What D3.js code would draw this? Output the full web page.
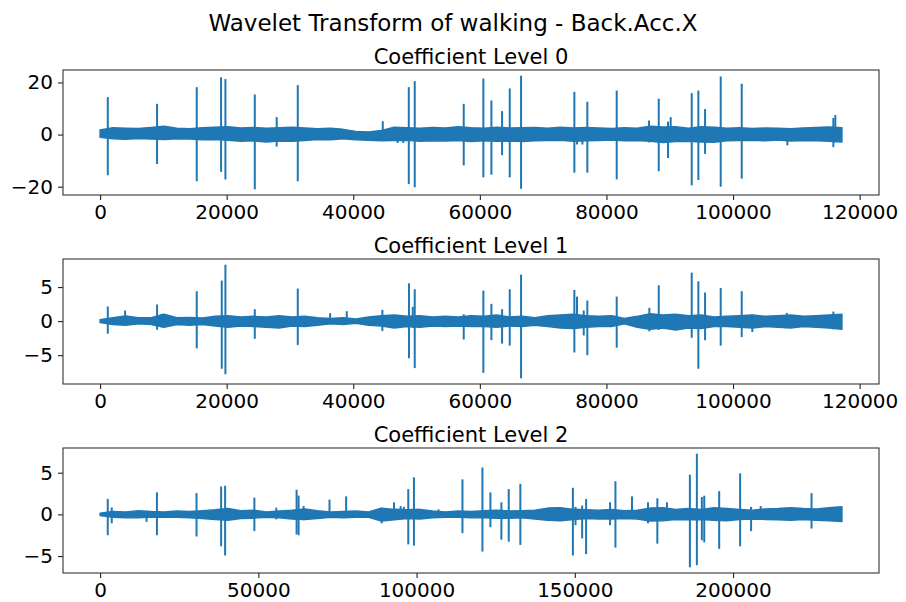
<!DOCTYPE html>
<html>
<head>
<meta charset="utf-8">
<script src="https://cdn.jsdelivr.net/npm/d3@7"></script>
<style>
  html, body { margin: 0; padding: 0; background: #fff; }
  text { font-family: "DejaVu Sans", sans-serif; fill: #000; }
</style>
</head>
<body>
<script>
// ---- Data: three detail-coefficient levels of the Back.Acc.X signal ----
// Each level: overall length, a noise envelope (upper/lower, evenly spaced samples)
// and the isolated spikes (position, peak, trough).

const level0Length = 117200;
const level0Upper = [1.8,2.6,2.4,2.3,2.7,3.2,2.4,2.2,2.6,2.8,
                     3.0,2.5,2.7,2.4,2.6,2.8,2.5,2.2,2.4,2.0,
                     1.2,1.0,1.6,2.8,2.6,2.4,2.7,2.5,3.0,2.6,
                     2.4,2.8,2.5,2.6,2.7,2.4,2.8,2.5,2.7,2.5,
                     2.3,2.6,2.4,3.2,2.9,3.0,2.4,3.0,2.8,2.4,
                     2.6,2.3,2.5,2.4,2.2,2.5,2.7,2.9,2.6];
const level0Lower = [-1.0,-1.6,-1.8,-1.5,-1.7,-1.9,-1.6,-1.7,-2.0,-1.9,
                     -2.2,-2.6,-2.4,-2.8,-2.5,-2.6,-2.3,-1.9,-2.0,-1.6,
                     -2.0,-2.2,-2.4,-2.3,-2.2,-2.6,-2.4,-2.5,-2.3,-2.7,
                     -2.4,-2.6,-2.5,-2.7,-2.4,-2.3,-2.2,-2.6,-2.4,-2.3,
                     -2.1,-2.4,-2.3,-2.6,-3.0,-2.7,-2.6,-2.8,-2.9,-2.4,
                     -2.3,-2.2,-2.4,-2.1,-2.5,-2.3,-2.4,-2.6,-2.8];
const level0SpikeX = [1215,9000,15270,19115,19800,24440,27900,31230,44660,47000,47900,48770,
                      49710,57450,60550,61820,63510,64720,66510,74930,75350,76200,76980,81620,
                      86730,88260,89730,90150,93470,94520,95580,98050,101370,108580,115850,116160];
const level0SpikeHigh = [14.4,11.8,18.2,22.0,21.3,15.4,6.7,19.0,5.1,1.5,1.5,18.2,
                         20.5,11.8,21.5,13.1,9.0,17.7,22.6,16.4,2.0,2.0,12.6,16.9,
                         5.4,13.8,5.0,6.7,15.9,16.9,9.8,22.3,19.5,1.5,6.4,7.5];
const level0SpikeLow = [-15.6,-11.3,-17.9,-14.3,-17.2,-21.0,-4.6,-17.9,-1.0,-3.2,-3.2,-19.0,
                        -20.2,-11.8,-16.4,-15.4,-7.9,-16.4,-20.8,-14.6,-3.8,-3.8,-14.6,-17.2,
                        -3.0,-14.1,-9.0,-2.0,-19.5,-17.4,-7.4,-20.0,-16.9,-4.1,-4.8,-3.0];

const level1Length = 117200;
const level1Upper = [0.2,0.5,0.75,0.5,0.5,1.0,0.5,0.55,0.45,0.7,
                     0.8,0.6,0.7,0.6,0.8,0.6,0.7,0.5,0.4,0.5,
                     0.3,0.6,0.8,0.9,0.7,0.8,0.6,0.7,0.6,0.8,
                     0.7,0.9,0.6,0.7,0.5,0.8,0.9,1.0,0.8,0.7,
                     0.8,0.4,0.7,1.1,0.9,1.0,0.8,0.9,0.6,0.7,
                     0.8,0.9,0.7,0.8,0.9,0.7,0.8,0.9,1.0];
const level1Lower = [-0.2,-0.5,-0.6,-0.4,-0.5,-0.9,-0.5,-0.6,-0.5,-0.7,
                     -0.9,-0.7,-0.8,-0.9,-1.0,-0.7,-0.8,-0.6,-0.4,-0.5,
                     -0.3,-0.6,-0.7,-1.0,-0.8,-0.9,-0.7,-0.8,-0.7,-0.8,
                     -0.8,-0.9,-0.7,-0.8,-0.6,-0.8,-1.0,-1.1,-0.9,-0.8,
                     -0.8,-0.4,-0.9,-1.2,-1.0,-1.3,-1.0,-1.1,-0.8,-0.8,
                     -0.9,-1.0,-0.8,-0.9,-1.0,-0.8,-0.9,-1.0,-1.2];
const level1SpikeX = [1215,3950,9000,9700,15270,19220,19800,24440,31230,36340,38970,44600,
                      48800,49400,49710,57450,60550,61820,63510,64720,66510,74930,75350,76410,
                      76980,81620,86780,88260,93470,94520,95580,98050,101370,103050,108500,115850];
const level1SpikeHigh = [2.15,1.56,2.44,1.07,4.39,5.95,8.29,1.75,4.78,1.17,1.46,1.66,
                         5.55,2.1,4.68,1.0,4.48,2.54,1.75,4.68,6.83,4.58,3.6,1.56,
                         3.02,3.6,1.95,5.26,7.12,5.85,4.2,4.87,4.39,1.0,1.2,1.4];
const level1SpikeLow = [-1.85,-0.6,-1.27,-0.9,-4.0,-7.0,-7.8,-2.6,-3.5,-0.3,-0.3,-1.46,
                        -5.45,-1.0,-6.9,-2.7,-7.6,-2.8,-3.3,-3.6,-8.4,-4.6,-1.0,-2.1,
                        -5.0,-3.9,-1.5,-1.3,-2.45,-7.0,-2.8,-3.6,-2.34,-1.6,-0.8,-1.2];

const level2Length = 234400;
const level2Upper = [0.15,0.35,0.3,0.45,0.35,0.3,0.4,0.35,0.45,0.55,
                     0.7,0.45,0.5,0.3,0.4,0.5,0.65,0.45,0.3,0.35,
                     0.4,0.3,0.75,0.6,0.55,0.6,0.4,0.3,0.4,0.35,
                     0.45,0.5,0.4,0.45,0.5,0.75,0.8,0.6,0.55,0.5,
                     0.6,0.45,0.5,0.75,0.8,0.6,0.7,0.6,0.8,0.7,
                     0.6,0.5,0.65,0.7,0.8,0.7,0.65,0.8,0.9];
const level2Lower = [-0.15,-0.35,-0.4,-0.4,-0.3,-0.35,-0.35,-0.4,-0.5,-0.6,
                     -0.7,-0.5,-0.45,-0.35,-0.4,-0.55,-0.6,-0.5,-0.35,-0.4,
                     -0.35,-0.35,-0.8,-0.65,-0.5,-0.55,-0.4,-0.35,-0.35,-0.4,
                     -0.4,-0.45,-0.45,-0.4,-0.55,-0.7,-0.75,-0.6,-0.5,-0.55,
                     -0.55,-0.5,-0.55,-0.8,-0.75,-0.6,-0.65,-0.6,-0.7,-0.75,
                     -0.6,-0.55,-0.6,-0.65,-0.7,-0.6,-0.7,-0.75,-0.85];
const level2SpikeX = [2420,3680,14700,17960,30470,38240,39500,48750,55680,62090,62720,64300,
                      72490,77750,88980,92870,94970,96010,97380,99170,106940,114500,120810,123330,
                      126800,129120,132790,149390,150230,152320,153570,161140,162840,168080,173120,176080,
                      179120,186360,188570,190140,190900,195620,202240,205700,208740,224800,231100];
const level2SpikeHigh = [1.85,0.83,0.3,2.64,2.55,3.35,3.43,2.0,0.8,2.95,2.25,1.0,
                         1.77,2.16,0.8,1.45,1.0,0.9,3.03,4.45,0.6,4.2,5.63,2.64,
                         1.45,3.03,3.66,3.19,0.9,1.06,1.85,1.45,3.97,2.16,1.45,1.93,
                         1.45,4.76,7.28,2.08,2.24,2.79,4.92,0.9,1.0,2.55,0.9];
const level2SpikeLow = [-2.5,-1.07,-0.9,-2.5,-2.65,-3.83,-4.93,-2.0,-0.6,-2.4,-2.5,-0.7,
                        -0.3,-0.2,-1.07,-0.5,-0.4,-0.4,-3.6,-3.75,-0.3,-2.25,-4.46,-1.54,
                        -3.04,-3.27,-3.66,-4.93,-1.3,-2.88,-4.77,-1.3,-3.98,-0.3,-1.07,-3.51,
                        -0.5,-6.35,-6.1,-3.1,-3.35,-4.14,-3.83,-2.0,-0.6,-1.7,-0.8];

const titles = ["Coefficient Level 0", "Coefficient Level 1", "Coefficient Level 2"];
const xTicks01 = [0, 20000, 40000, 60000, 80000, 100000, 120000];
const xTicks2 = [0, 50000, 100000, 150000, 200000];
const yTicks0 = [-20, 0, 20];
const yTicks12 = [-5, 0, 5];

// ---- Layout ----
const W = 906, H = 602;
const lineColor = "#1f77b4";
const axLeft = 63, axRight = 879;
const axTops = [70, 259, 448];
const axHeight = 125;

const levels = [
  { title: titles[0], len: level0Length, up: level0Upper, lo: level0Lower,
    sx: level0SpikeX, sh: level0SpikeHigh, sl: level0SpikeLow, xt: xTicks01, yt: yTicks0 },
  { title: titles[1], len: level1Length, up: level1Upper, lo: level1Lower,
    sx: level1SpikeX, sh: level1SpikeHigh, sl: level1SpikeLow, xt: xTicks01, yt: yTicks12 },
  { title: titles[2], len: level2Length, up: level2Upper, lo: level2Lower,
    sx: level2SpikeX, sh: level2SpikeHigh, sl: level2SpikeLow, xt: xTicks2, yt: yTicks12 }
];

const svg = d3.select("body").append("svg")
  .attr("width", W).attr("height", H);

svg.append("text")
  .attr("x", W / 2).attr("y", 31)
  .attr("text-anchor", "middle")
  .style("font-size", "23px")
  .text("Wavelet Transform of walking - Back.Acc.X");

const fmt = d => d < 0 ? "\u2212" + Math.abs(d) : String(d);

levels.forEach((lv, k) => {
  const top = axTops[k], bottom = top + axHeight;
  const n = lv.up.length;
  const sampleX = i => i * lv.len / (n - 1);

  // matplotlib-style 5% margins around the data extent
  const xmin = 0, xmax = lv.len;
  const xpad = (xmax - xmin) * 0.05;
  const ymax = d3.max([d3.max(lv.up), d3.max(lv.sh)]);
  const ymin = d3.min([d3.min(lv.lo), d3.min(lv.sl)]);
  const ypad = (ymax - ymin) * 0.05;

  const x = d3.scaleLinear().domain([xmin - xpad, xmax + xpad]).range([axLeft, axRight]);
  const y = d3.scaleLinear().domain([ymin - ypad, ymax + ypad]).range([bottom, top]);

  const g = svg.append("g");

  // noise band
  const idx = d3.range(n);
  const band = d3.area()
    .x(i => x(sampleX(i)))
    .y0(i => y(lv.lo[i]))
    .y1(i => y(lv.up[i]));
  g.append("path")
    .attr("d", band(idx))
    .attr("fill", lineColor)
    .attr("stroke", lineColor)
    .attr("stroke-width", 1.5)
    .attr("stroke-linejoin", "round");

  // spikes
  g.selectAll("line.spike")
    .data(d3.range(lv.sx.length))
    .join("line")
    .attr("class", "spike")
    .attr("x1", i => x(lv.sx[i])).attr("x2", i => x(lv.sx[i]))
    .attr("y1", i => y(lv.sl[i])).attr("y2", i => y(lv.sh[i]))
    .attr("stroke", lineColor)
    .attr("stroke-width", 2);

  // axes
  const xAxis = d3.axisBottom(x).tickValues(lv.xt).tickFormat(fmt).tickSize(5).tickPadding(5);
  const yAxis = d3.axisLeft(y).tickValues(lv.yt).tickFormat(fmt).tickSize(5).tickPadding(5);

  const gx = svg.append("g").attr("transform", `translate(0,${bottom})`).call(xAxis);
  const gy = svg.append("g").attr("transform", `translate(${axLeft},0)`).call(yAxis);
  [gx, gy].forEach(a => {
    a.select(".domain").remove();
    a.selectAll(".tick line").attr("stroke", "#222").attr("stroke-width", 1.1);
    a.selectAll(".tick text").style("font-size", "20px").style("font-family", "DejaVu Sans, sans-serif").attr("fill", "#000");
  });

  // frame
  svg.append("rect")
    .attr("x", axLeft).attr("y", top)
    .attr("width", axRight - axLeft).attr("height", axHeight)
    .attr("fill", "none")
    .attr("stroke", "#333")
    .attr("stroke-width", 1.1);

  svg.append("text")
    .attr("x", (axLeft + axRight) / 2).attr("y", top - 6)
    .attr("text-anchor", "middle")
    .style("font-size", "21px")
    .text(lv.title);
});
</script>
</body>
</html>
